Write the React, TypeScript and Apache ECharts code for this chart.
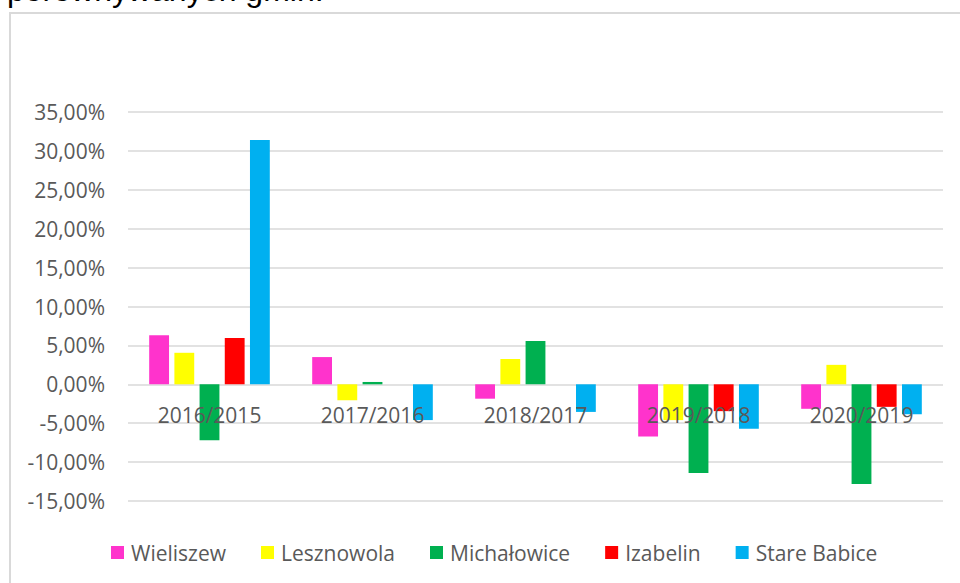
import React, { useEffect, useRef } from "react";
import * as echarts from "echarts";

const categories = ["2016/2015", "2017/2016", "2018/2017", "2019/2018", "2020/2019"];
const seriesNames = ["Wieliszew", "Lesznowola", "Michałowice", "Izabelin", "Stare Babice"];
const wieliszew = [6.3, 3.5, -1.85, -6.7, -3.15];
const lesznowola = [4.05, -2.05, 3.25, -4.6, 2.5];
const michalowice = [-7.2, 0.3, 5.55, -11.4, -12.8];
const izabelin = [5.95, 0, 0, -3.45, -2.9];
const stareBabice = [31.4, -4.6, -3.55, -5.7, -3.85];
const seriesValues = [wieliszew, lesznowola, michalowice, izabelin, stareBabice];
const colors = ["#FF33CC", "#FFFF00", "#00B050", "#FF0000", "#00B0F0"];
const titleText = "porównywanych gmin.";

const FONT = "'Open Sans', sans-serif";
const TEXT_COLOR = "#595959";

export default function App() {
  const ref = useRef<HTMLDivElement>(null);
  useEffect(() => {
    if (!ref.current) return;
    const chart = echarts.init(ref.current, null, { renderer: "svg" });
    chart.setOption({
      animation: false,
      backgroundColor: "#ffffff",
      textStyle: { fontFamily: FONT },
      graphic: [
        {
          type: "rect",
          shape: { x: 10, y: 13, width: 980, height: 620 },
          style: { fill: "none", stroke: "#d9d9d9", lineWidth: 2 },
          silent: true,
        },
        {
          type: "text",
          x: 7,
          y: -10,
          style: {
            text: titleText,
            font: "32px 'Liberation Sans', Arial, sans-serif",
            fill: "#000000",
            verticalAlign: "middle",
          },
          silent: true,
        },
      ],
      legend: {
        data: seriesNames,
        left: 106,
        top: 537,
        itemWidth: 13,
        itemHeight: 13,
        itemGap: 35,
        icon: "rect",
        textStyle: {
          color: TEXT_COLOR,
          fontSize: 21,
          fontFamily: FONT,
          padding: [0, 0, 0, 2],
        },
      },
      grid: {
        left: 128,
        right: 17,
        top: 112,
        bottom: 82,
        containLabel: false,
      },
      xAxis: {
        type: "category",
        data: categories,
        axisLine: { show: false, onZero: false },
        axisTick: { show: false },
        z: 10,
        axisLabel: {
          color: TEXT_COLOR,
          fontSize: 21,
          fontFamily: FONT,
          margin: -97,
        },
      },
      yAxis: {
        type: "value",
        min: -15,
        max: 35,
        interval: 5,
        axisLine: { show: false },
        axisTick: { show: false },
        splitLine: { lineStyle: { color: "#d9d9d9", width: 1.5 } },
        axisLabel: {
          color: TEXT_COLOR,
          fontSize: 21,
          fontFamily: FONT,
          margin: 23,
          formatter: (v: number) => v.toFixed(2).replace(".", ",") + "%",
        },
      },
      series: seriesNames.map((name, i) => ({
        name,
        type: "bar",
        data: seriesValues[i],
        barGap: "27%",
        barCategoryGap: "26%",
        itemStyle: { color: colors[i] },
      })),
    });
    return () => chart.dispose();
  }, []);
  return (
    <div
      ref={ref}
      style={{ position: "fixed", left: 0, top: 0, width: 960, height: 583 }}
    />
  );
}
